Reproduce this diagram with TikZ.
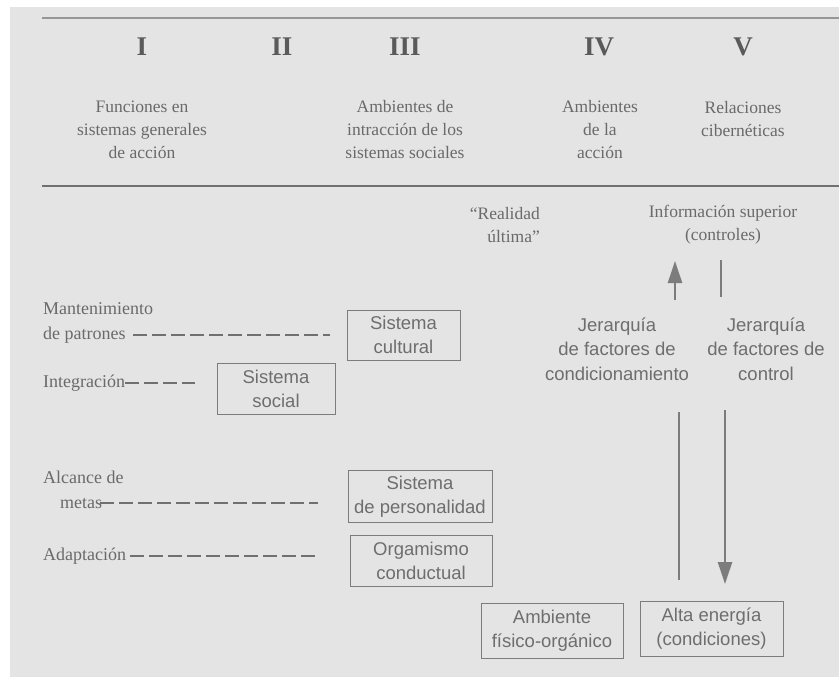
\documentclass[tikz,border=0pt]{standalone}
\usepackage{fontspec}
\setmainfont{Liberation Serif}
\newfontfamily\sansf{Liberation Sans}
\usetikzlibrary{arrows.meta}
\definecolor{bgc}{HTML}{E4E4E4}
\definecolor{txt}{HTML}{6A6A6A}
\definecolor{stx}{HTML}{6E6E6E}
\definecolor{ln}{HTML}{7C7C7C}
\begin{document}
\begin{tikzpicture}[x=1pt,y=-1pt,
  roman/.style={text=txt!85!black,font=\fontsize{27}{30}\selectfont\bfseries,inner sep=0pt},
  head/.style={text=txt,font=\fontsize{17.5}{23}\selectfont,align=center,inner sep=0pt},
  lab/.style={text=txt,font=\fontsize{18}{25}\selectfont,align=left,inner sep=0pt},
  sbox/.style={draw=ln,line width=1pt,text=stx,font=\sansf\fontsize{18.5}{24}\selectfont,align=center,inner sep=0pt},
  stext/.style={text=stx,font=\sansf\fontsize{18.5}{24.5}\selectfont,align=center,inner sep=0pt},
  dline/.style={draw=ln!90!black,line width=1.1pt,dash pattern=on 14pt off 5pt},
  vline/.style={draw=ln,line width=2.5pt},
  arr/.style={vline,-{Triangle[length=22pt,width=14pt]}},
]
\useasboundingbox (0,0) rectangle (839,677);
\fill[white] (0,0) rectangle (839,677);
\fill[bgc] (10,7) rectangle (839,677);
% header rules
\coordinate (t1) at (42,18); \coordinate (t2) at (839,18);
\coordinate (u1) at (42,186); \coordinate (u2) at (839,186);
\draw[ln!80,line width=1.3pt] (t1) -- (t2);
\draw[ln!90!black,line width=1.8pt] (u1) -- (u2);
% roman numerals
\node[roman] (r1) at (142,47) {I};
\node[roman] (r2) at (282,47) {II};
\node[roman] (r3) at (405,47) {III};
\node[roman] (r4) at (599,47) {IV};
\node[roman] (r5) at (743,47) {V};
% column heads
\node[head] (h1) at (142,130) {Funciones en\\sistemas generales\\de acción};
\node[head] (h3) at (405,130) {Ambientes de\\intracción de los\\sistemas sociales};
\node[head] (h4) at (600,130) {Ambientes\\de la\\acción};
\node[head] (h5) at (743,119) {Relaciones\\cibernéticas};
% top right texts
\node[head,align=right,anchor=east] (real) at (540,225) {“Realidad\\última”};
\node[head] (info) at (723,225) {Información superior\\(controles)};
% hierarchy texts
\node[stext] (j1) at (617,349) {Jerarquía\\de factores de\\condicionamiento};
\node[stext] (j2) at (766,349) {Jerarquía\\de factores de\\control};
% arrows
\coordinate (a1s) at (675,300); \coordinate (a1e) at (675,261);
\draw[arr] (a1s) -- (a1e);
\coordinate (a2s) at (721,260); \coordinate (a2e) at (721,297);
\draw[vline] (a2s) -- (a2e);
\coordinate (a3s) at (679,580); \coordinate (a3e) at (679,412);
\draw[vline] (a3s) -- (a3e);
\coordinate (a4s) at (725,410); \coordinate (a4e) at (725,584);
\draw[arr] (a4s) -- (a4e);
% boxes
\node[sbox,minimum width=113pt,minimum height=50pt] (b1) at (403.5,335) {Sistema\\cultural};
\node[sbox,minimum width=118pt,minimum height=51pt] (b2) at (276,389) {Sistema\\social};
\node[sbox,minimum width=144pt,minimum height=52pt] (b3) at (420,496.5) {Sistema\\de personalidad};
\node[sbox,minimum width=142pt,minimum height=51pt] (b4) at (421,560.5) {Orgamismo\\conductual};
\node[sbox,minimum width=142pt,minimum height=55pt] (b5) at (552,630.5) {Ambiente\\físico-orgánico};
\node[sbox,minimum width=143pt,minimum height=55pt] (b6) at (711.5,629) {Alta energía\\(condiciones)};
% left labels
\node[lab,anchor=west] (l1) at (43,323) {Mantenimiento\\de patrones};
\node[lab,anchor=west] (l2) at (43,383) {Integración};
\node[lab,anchor=west] (l3) at (43,490) {Alcance de\\\hspace*{17pt}metas};
\node[lab,anchor=west] (l4) at (43,556) {Adaptación};
\coordinate (d1s) at (133,335); \coordinate (d1e) at (330,335);
\draw[dline] (d1s) -- (d1e);
\draw[dline] (l2.east) -- (195,383) coordinate (d2e);
\coordinate (d3s) at (100,503); \coordinate (d3e) at (318,503);
\draw[dline] (d3s) -- (d3e);
\draw[dline] ([xshift=4pt]l4.east) -- (317,556) coordinate (d4e);
\end{tikzpicture}
\end{document}
